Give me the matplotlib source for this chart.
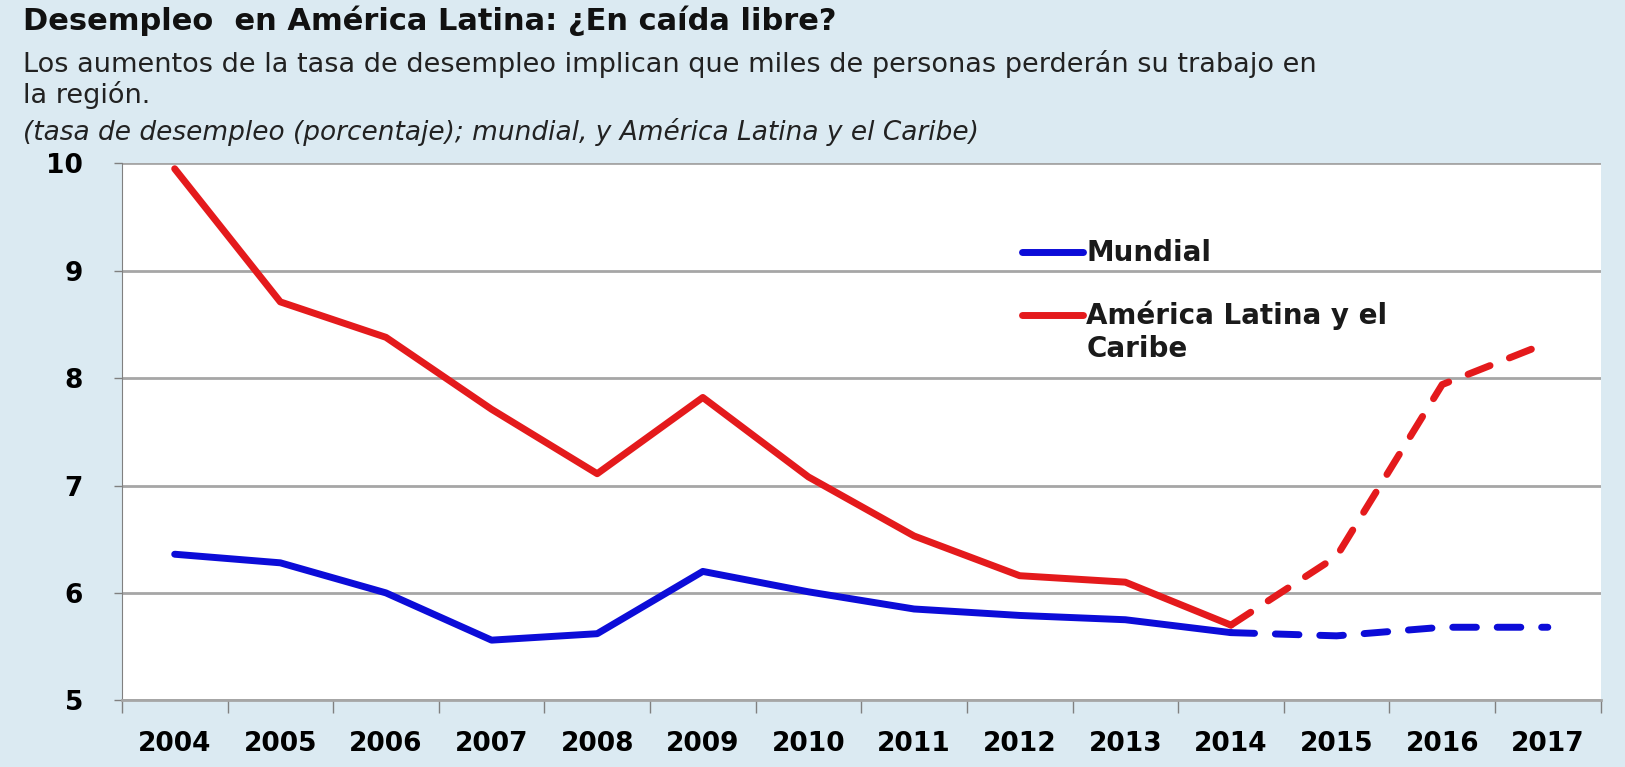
import numpy as np
import matplotlib
matplotlib.use("Agg")
import matplotlib.pyplot as plt
from matplotlib.lines import Line2D
from matplotlib.legend_handler import HandlerLine2D

years = [2004, 2005, 2006, 2007, 2008, 2009, 2010, 2011, 2012, 2013, 2014, 2015, 2016, 2017]
mundial = [6.36, 6.28, 6.0, 5.56, 5.62, 6.20, 6.01, 5.85, 5.79, 5.75, 5.63, 5.60, 5.68, 5.68]
latam = [9.95, 8.71, 8.38, 7.71, 7.11, 7.82, 7.08, 6.53, 6.16, 6.10, 5.70, 6.34, 7.94, 8.33]
last_obs = 2014  # from here on, projections (dashed)

bg = '#dbeaf2'
blue = '#0c0cd8'
red = '#e41a1c'
grid = '#a6a6a6'
lw = 5


class TopLineHandler(HandlerLine2D):
    # put the legend line next to the first line of a two-line label
    def __init__(self, shift=0, **kw):
        super().__init__(**kw)
        self.shift = shift

    def create_artists(self, legend, orig_handle, xdescent, ydescent, width,
                       height, fontsize, trans):
        return super().create_artists(legend, orig_handle, xdescent,
                                      ydescent - 2 * self.shift, width, height,
                                      fontsize, trans)


fig = plt.figure(figsize=(16.25, 7.67), dpi=100, facecolor=bg)
ax = fig.add_axes([0.075, 0.087, 0.910, 0.700])
ax.set_facecolor('white')

x = np.arange(len(years))
k = years.index(last_obs)
for vals, col in [(mundial, blue), (latam, red)]:
    ax.plot(x[:k + 1], vals[:k + 1], color=col, lw=lw, solid_capstyle='round',
            solid_joinstyle='round', zorder=3)
    ax.plot(x[k:], vals[k:], color=col, lw=lw, dashes=(3.4, 3.0),
            dash_capstyle='round', zorder=3)

ax.set_xlim(-0.5, len(years) - 0.5)
ax.set_ylim(5, 10)
ax.set_yticks(range(5, 11))
ax.yaxis.grid(True, color=grid, lw=2)
ax.set_axisbelow(True)

ax.set_xticks(x)
ax.set_xticklabels([str(y) for y in years], fontsize=19, fontweight='bold')
ax.set_xticks(np.arange(-0.5, len(years)), minor=True)
ax.tick_params(axis='x', which='major', length=0, pad=22)
ax.tick_params(axis='x', which='minor', length=9, width=1, color='#808080')
ax.tick_params(axis='y', length=6, width=1, color='#808080', pad=22, labelsize=19)
for lab in ax.get_yticklabels():
    lab.set_fontweight('bold')

for s in ['top', 'right']:
    ax.spines[s].set_visible(False)
ax.spines['left'].set_color('#808080')
ax.spines['bottom'].set_color(grid)
ax.spines['bottom'].set_linewidth(2)

h_mund = Line2D([], [], color=blue, lw=lw, solid_capstyle='round')
h_lat = Line2D([], [], color=red, lw=lw, solid_capstyle='round')
ax.legend([h_mund, h_lat], ['Mundial', 'América Latina y el\nCaribe'], frameon=False,
          loc='upper left', bbox_to_anchor=(0.592, 0.905),
          prop={'size': 20, 'weight': 'bold'}, handlelength=2.2,
          handletextpad=0.1, labelspacing=1.2, labelcolor='#1a1a1a',
          handler_map={h_lat: TopLineHandler(shift=13)})

fig.text(0.014, 0.973, 'Desempleo  en América Latina: ¿En caída libre?',
         fontsize=22, fontweight='bold', va='center', color='#111111')
fig.text(0.014, 0.917, 'Los aumentos de la tasa de desempleo implican que miles de personas perderán su trabajo en',
         fontsize=19.5, va='center', color='#222222')
fig.text(0.014, 0.876, 'la región.', fontsize=19.5, va='center', color='#222222')
fig.text(0.014, 0.828, '(tasa de desempleo (porcentaje); mundial, y América Latina y el Caribe)',
         fontsize=19, style='italic', va='center', color='#222222')

fig.savefig('out.png', dpi=100, facecolor=bg)
